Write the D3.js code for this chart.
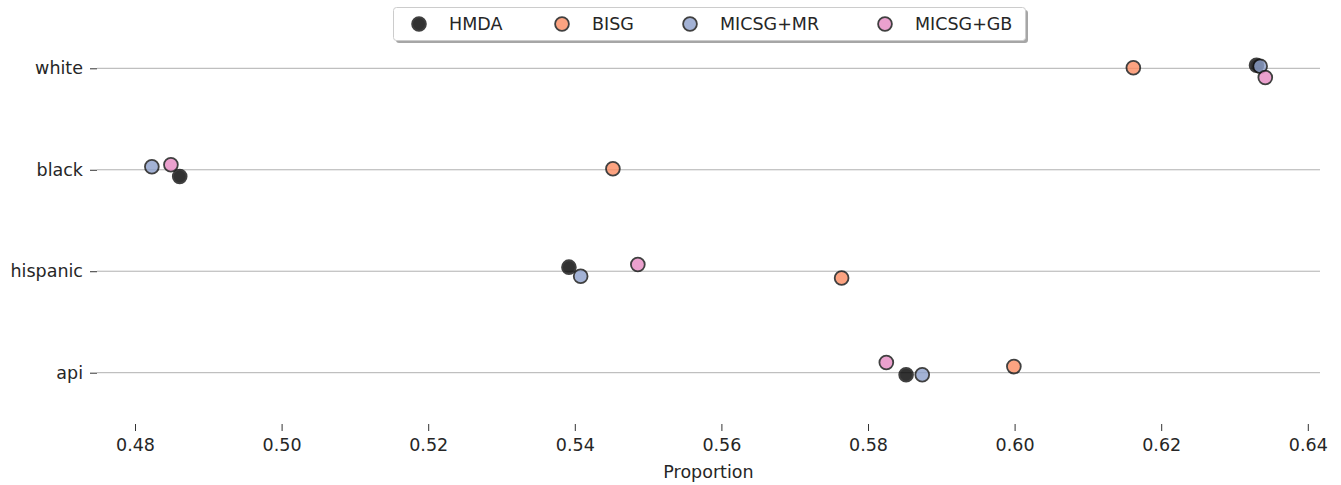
<!DOCTYPE html>
<html><head><meta charset="utf-8">
<script src="https://cdn.jsdelivr.net/npm/d3@7"></script>
<style>body{margin:0;background:#fff}svg{display:block;font-family:"DejaVu Sans",sans-serif}</style>
</head><body><svg id="c" width="1341" height="485"></svg>
<script>
const categories = ["white","black","hispanic","api"];
const seriesNames = ["HMDA","BISG","MICSG+MR","MICSG+GB"];
const seriesColors = ["#000000","#fc8d62","#8da0cb","#e78ac3"];
const hmda   = [0.6330, 0.4861, 0.5392, 0.5852];
const bisg   = [0.6162, 0.5452, 0.5764, 0.5999];
const micsgMR = [0.6335, 0.4823, 0.5408, 0.5874];
const micsgGB = [0.6342, 0.4849, 0.5486, 0.5825];
// vertical jitter (fraction of row spacing), as in the strip plot
const jitHMDA = [-0.03, 0.066, -0.04, 0.02];
const jitBISG = [-0.006, -0.01, 0.066, -0.06];
const jitMR   = [-0.02, -0.03, 0.05, 0.02];
const jitGB   = [0.09, -0.05, -0.066, -0.10];
const xTicks = [0.48,0.50,0.52,0.54,0.56,0.58,0.60,0.62,0.64];

const values = [hmda, bisg, micsgMR, micsgGB];
const jitters = [jitHMDA, jitBISG, jitMR, jitGB];
const FS = 17.5;

const svg = d3.select("#c");
const x = d3.scaleLinear().domain([0.48, 0.64]).range([135, 1307.8]);
const y = d3.scalePoint().domain(categories).range([68.3, 372.7]);
const step = y.step();

// grid lines
svg.append("g").selectAll("line").data(categories).join("line")
  .attr("x1", 97).attr("x2", 1320)
  .attr("y1", d => y(d)).attr("y2", d => y(d))
  .attr("stroke", "#b0b0b0").attr("stroke-width", 1);

// y axis
const yAx = svg.append("g").attr("transform", "translate(97,0)")
  .call(d3.axisLeft(y).tickSize(7).tickPadding(7));
yAx.select(".domain").remove();
yAx.selectAll("line").attr("stroke", "#333");
yAx.selectAll("text").attr("font-size", FS).attr("fill", "#262626")
  .attr("font-family", '"DejaVu Sans",sans-serif');

// x axis
const xAx = svg.append("g").attr("transform", "translate(0,424)")
  .call(d3.axisBottom(x).tickValues(xTicks).tickFormat(d3.format(".2f")).tickSize(7).tickPadding(8));
xAx.select(".domain").remove();
xAx.selectAll("line").attr("stroke", "#333");
xAx.selectAll("text").attr("font-size", FS).attr("fill", "#262626")
  .attr("font-family", '"DejaVu Sans",sans-serif');

svg.append("text").attr("x", 708.5).attr("y", 478)
  .attr("text-anchor", "middle").attr("font-size", FS).attr("fill", "#262626")
  .text("Proportion");

// points
values.forEach((vals, si) => {
  svg.append("g").selectAll("circle").data(categories).join("circle")
    .attr("cx", (c, i) => x(vals[i]))
    .attr("cy", (c, i) => y(c) + jitters[si][i] * step)
    .attr("r", 6.9)
    .attr("fill", seriesColors[si])
    .attr("stroke", "#111").attr("stroke-width", 1.8)
    .attr("opacity", 0.8);
});

// legend
const lg = svg.append("g");
lg.append("rect").attr("x", 396).attr("y", 10).attr("width", 632).attr("height", 33)
  .attr("rx", 3).attr("fill", "#000").attr("opacity", 0.35);
lg.append("rect").attr("x", 393.5).attr("y", 7.5).attr("width", 632).attr("height", 33)
  .attr("rx", 3).attr("fill", "#fff").attr("stroke", "#cccccc").attr("stroke-width", 1);
const legX = [419, 562, 690, 885];
seriesNames.forEach((n, i) => {
  lg.append("circle").attr("cx", legX[i]).attr("cy", 24).attr("r", 6.9)
    .attr("fill", seriesColors[i]).attr("stroke", "#111").attr("stroke-width", 1.8)
    .attr("opacity", 0.8);
  lg.append("text").attr("x", legX[i] + 30).attr("y", 30).attr("font-size", FS)
    .attr("fill", "#262626").text(n);
});
</script></body></html>
